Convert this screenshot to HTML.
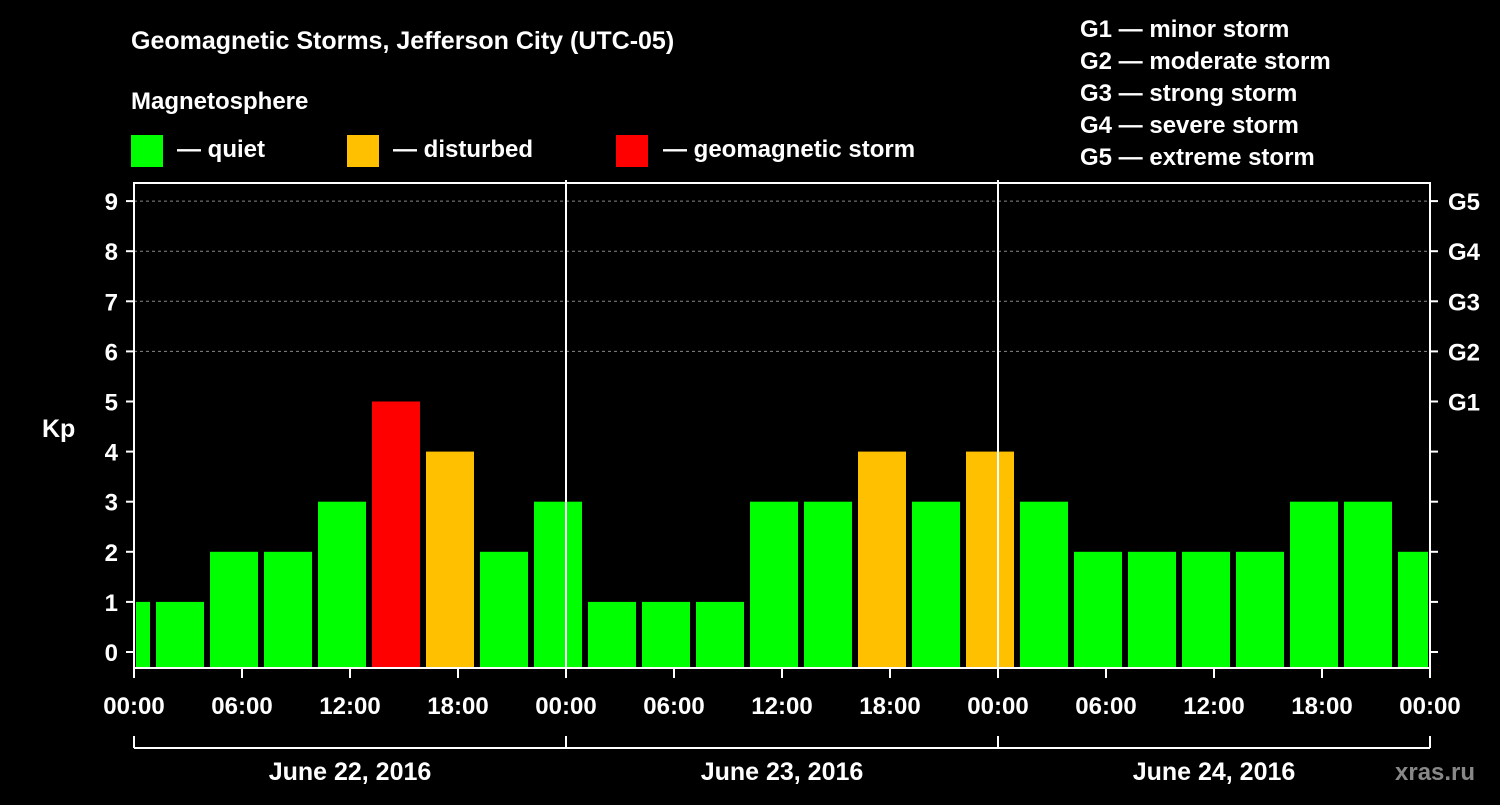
<!DOCTYPE html>
<html><head><meta charset="utf-8"><style>
body{margin:0;background:#000;width:1500px;height:800px;overflow:hidden}
svg text{font-family:"Liberation Sans",Arial,sans-serif;font-weight:bold;fill:#fff}
</style></head><body>
<svg id="c" width="1500" height="800" xmlns="http://www.w3.org/2000/svg">
<text x="131" y="49" font-size="25">Geomagnetic Storms, Jefferson City (UTC-05)</text>
<text x="131" y="109" font-size="24">Magnetosphere</text>
<rect x="131" y="135" width="32" height="32" fill="#00ff00"/>
<text x="177" y="157" font-size="24">— quiet</text>
<rect x="347" y="135" width="32" height="32" fill="#ffc000"/>
<text x="393" y="157" font-size="24">— disturbed</text>
<rect x="616" y="135" width="32" height="32" fill="#ff0000"/>
<text x="663" y="157" font-size="24">— geomagnetic storm</text>
<g font-size="24">
<text x="1080" y="37">G1 — minor storm</text>
<text x="1080" y="69">G2 — moderate storm</text>
<text x="1080" y="101">G3 — strong storm</text>
<text x="1080" y="133">G4 — severe storm</text>
<text x="1080" y="165">G5 — extreme storm</text>
</g>
<text x="42" y="437" font-size="25">Kp</text>
<g id="plot"></g>
<text x="1395" y="780" font-size="24" fill="#888" style="fill:#888">xras.ru</text>
</svg>
<script>
const kpValues=[1,1,2,2,3,5,4,2,3,1,1,1,3,3,4,3,4,3,2,2,2,2,3,3,2];
const hourTicks=["00:00","06:00","12:00","18:00","00:00","06:00","12:00","18:00","00:00","06:00","12:00","18:00","00:00"];
const dayLabels=["June 22, 2016","June 23, 2016","June 24, 2016"];
const gLabels=["G1","G2","G3","G4","G5"];
const NS="http://www.w3.org/2000/svg";
const g=document.getElementById('plot');
const X0=134,X1=1430,PX=18;
const xs=h=>X0+h*PX;
const ys=k=>652-k*50.1;
function el(t,a,p){const e=document.createElementNS(NS,t);for(const k in a)e.setAttribute(k,a[k]);(p||g).appendChild(e);return e;}
// grid
for(let k=6;k<=9;k++){const l=el('line',{x1:X0,x2:X1,y1:ys(k),y2:ys(k),stroke:'#888','stroke-dasharray':'3,3','stroke-width':1});

}
// bars: first bin starts at hour -2 (bins 01:00-04:00 local)
kpValues.forEach((v,i)=>{
 let a=-2+i*3,b=a+3;
 let xa=Math.max(xs(a)+4,X0+2),xb=Math.min(xs(b)-2,X1-2);
 const col=v>=5?'#ff0000':v>=4?'#ffc000':'#00ff00';
 const r=el('rect',{x:xa,y:ys(v),width:xb-xa,height:668-ys(v),fill:col});
 
 
});
// frame
const f=el('rect',{x:X0,y:183,width:X1-X0,height:485,fill:'none',stroke:'#fff','stroke-width':2});


[24,48].forEach(h=>{const l=el('line',{x1:xs(h),x2:xs(h),y1:180,y2:668,stroke:'#fff','stroke-width':2});

});
// y ticks
for(let k=0;k<=9;k++){
 el('line',{x1:X0-8,x2:X0,y1:ys(k),y2:ys(k),stroke:'#fff','stroke-width':2});
 el('line',{x1:X1,x2:X1+8,y1:ys(k),y2:ys(k),stroke:'#fff','stroke-width':2});
 const t=el('text',{x:X0-16,y:ys(k)+9,'font-size':24,'text-anchor':'end'});t.textContent=k;
 
 
}
gLabels.forEach((s,i)=>{const t=el('text',{x:1448,y:ys(5+i)+9,'font-size':24});t.textContent=s;

});
// x ticks
hourTicks.forEach((s,i)=>{const x=xs(i*6);
 el('line',{x1:x,x2:x,y1:668,y2:678,stroke:'#fff','stroke-width':2});
 const t=el('text',{x:x,y:714,'font-size':24,'text-anchor':'middle'});t.textContent=s;
 
 });
// date brackets
el('line',{x1:X0,x2:X1,y1:748,y2:748,stroke:'#fff','stroke-width':2});
[0,24,48,72].forEach(h=>el('line',{x1:xs(h),x2:xs(h),y1:736,y2:748,stroke:'#fff','stroke-width':2}));
dayLabels.forEach((s,i)=>{const t=el('text',{x:xs(i*24+12),y:780,'font-size':25,'text-anchor':'middle'});t.textContent=s;

});
</script>
</body></html>
